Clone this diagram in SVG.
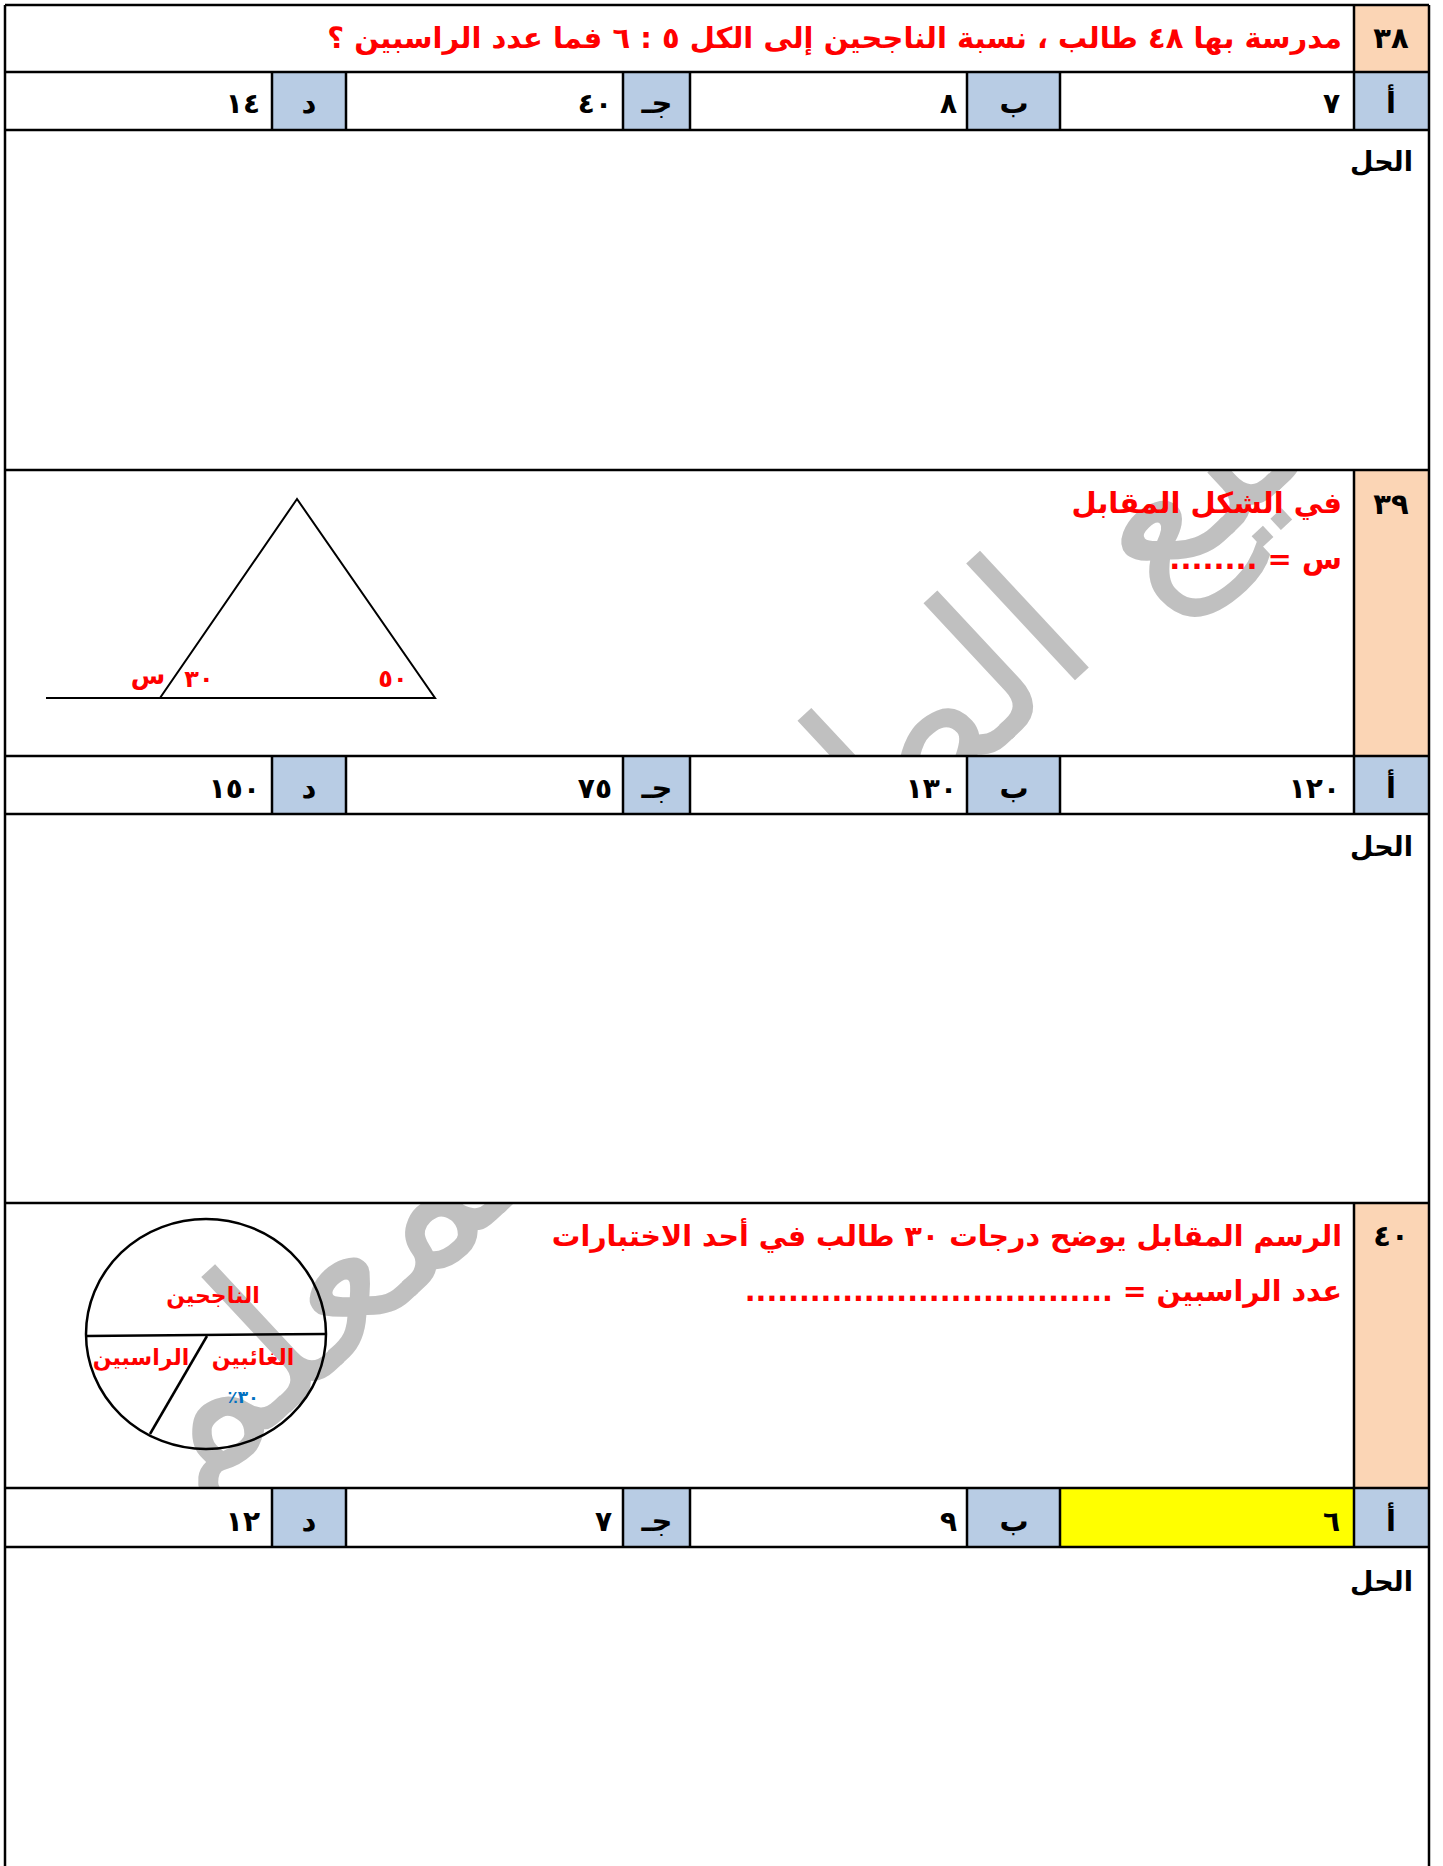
<svg xmlns="http://www.w3.org/2000/svg" width="1443" height="1866" viewBox="0 0 1443 1866">
<style>
.ln{stroke:#000;stroke-width:2.5;fill:none}
.thin{stroke:#000;stroke-width:2;fill:none}
.or{fill:#FBD5B5}
.bl{fill:#B8CCE4}
.ar{font-family:"DejaVu Sans",sans-serif;font-weight:bold}
.q{fill:#FF0000;font-size:29px}
.num{fill:#000;font-size:29px;text-anchor:middle}
.val{fill:#000;font-size:28px;text-anchor:end}
.sol{fill:#000;font-size:27px}
.lab{fill:#FF0000;font-size:22px;text-anchor:middle}
.wm{font-family:"DejaVu Sans",sans-serif;fill:#C0C0C0;font-size:210px}
</style>
<defs>
<clipPath id="wmclip">
<rect x="6" y="471" width="1347" height="284"/>
<rect x="6" y="1204" width="1347" height="283"/>
</clipPath>
</defs>
<rect x="0" y="0" width="1443" height="1866" fill="#fff"/>

<g id="cells">
<rect class="or" x="1354" y="5" width="75" height="67"/>
<rect class="bl" x="1354" y="72" width="75" height="58"/>
<rect class="bl" x="967" y="72" width="93" height="58"/>
<rect class="bl" x="623" y="72" width="67" height="58"/>
<rect class="bl" x="272" y="72" width="74" height="58"/>
<rect class="or" x="1354" y="470" width="75" height="286"/>
<rect class="bl" x="1354" y="756" width="75" height="58"/>
<rect class="bl" x="967" y="756" width="93" height="58"/>
<rect class="bl" x="623" y="756" width="67" height="58"/>
<rect class="bl" x="272" y="756" width="74" height="58"/>
<rect class="or" x="1354" y="1203" width="75" height="285"/>
<rect class="bl" x="1354" y="1488" width="75" height="59"/>
<rect x="1060" y="1488" width="294" height="59" fill="#FFFF00"/>
<rect class="bl" x="967" y="1488" width="93" height="59"/>
<rect class="bl" x="623" y="1488" width="67" height="59"/>
<rect class="bl" x="272" y="1488" width="74" height="59"/>
</g>

<g id="watermark" clip-path="url(#wmclip)">
<text class="wm" direction="rtl" text-anchor="middle" transform="translate(850,890) rotate(-43)">تجميع الطالب المعلم</text>
</g>

<g id="grid">
<line class="ln" x1="5" y1="5" x2="5" y2="1866"/>
<line class="ln" x1="1429" y1="5" x2="1429" y2="1866"/>
<line class="ln" x1="5" y1="5" x2="1429" y2="5"/>
<line class="ln" x1="5" y1="72" x2="1429" y2="72"/>
<line class="ln" x1="5" y1="130" x2="1429" y2="130"/>
<line class="ln" x1="5" y1="470" x2="1429" y2="470"/>
<line class="ln" x1="5" y1="756" x2="1429" y2="756"/>
<line class="ln" x1="5" y1="814" x2="1429" y2="814"/>
<line class="ln" x1="5" y1="1203" x2="1429" y2="1203"/>
<line class="ln" x1="5" y1="1488" x2="1429" y2="1488"/>
<line class="ln" x1="5" y1="1547" x2="1429" y2="1547"/>
<line class="ln" x1="1354" y1="5" x2="1354" y2="130"/>
<line class="ln" x1="1354" y1="470" x2="1354" y2="814"/>
<line class="ln" x1="1354" y1="1203" x2="1354" y2="1547"/>
<path class="ln" d="M1060 72V130M967 72V130M690 72V130M623 72V130M346 72V130M272 72V130"/>
<path class="ln" d="M1060 756V814M967 756V814M690 756V814M623 756V814M346 756V814M272 756V814"/>
<path class="ln" d="M1060 1488V1547M967 1488V1547M690 1488V1547M623 1488V1547M346 1488V1547M272 1488V1547"/>
</g>

<g id="q38">
<text class="ar num" x="1391" y="48">٣٨</text>
<text class="ar q" x="1342" y="48" direction="rtl" text-anchor="start">مدرسة بها ٤٨ طالب ، نسبة الناجحين إلى الكل ٥ : ٦  فما عدد الراسبين ؟</text>
<text class="ar num" x="1391" y="113">أ</text>
<text class="ar val" x="1340" y="113">٧</text>
<text class="ar num" x="1014" y="113">ب</text>
<text class="ar val" x="957" y="113">٨</text>
<text class="ar num" x="657" y="113">جـ</text>
<text class="ar val" x="612" y="113">٤٠</text>
<text class="ar num" x="309" y="113">د</text>
<text class="ar val" x="260" y="113">١٤</text>
<text class="ar sol" x="1413" y="171" direction="rtl" text-anchor="start">الحل</text>
</g>

<g id="q39">
<text class="ar num" x="1391" y="514">٣٩</text>
<text class="ar q" x="1342" y="513" direction="rtl" text-anchor="start">في الشكل المقابل</text>
<text class="ar q" x="1342" y="569" direction="rtl" text-anchor="start">س = ........</text>
<g id="triangle">
<polygon class="thin" points="297,499 160,698 435,698"/>
<line class="thin" x1="46" y1="698" x2="160" y2="698"/>
</g>
<text class="ar lab" x="148" y="684" style="font-size:25px">س</text>
<text class="ar lab" x="199" y="687" style="font-size:24px">٣٠</text>
<text class="ar lab" x="393" y="687" style="font-size:24px">٥٠</text>
<text class="ar num" x="1391" y="798">أ</text>
<text class="ar val" x="1340" y="798">١٢٠</text>
<text class="ar num" x="1014" y="798">ب</text>
<text class="ar val" x="957" y="798">١٣٠</text>
<text class="ar num" x="657" y="798">جـ</text>
<text class="ar val" x="612" y="798">٧٥</text>
<text class="ar num" x="309" y="798">د</text>
<text class="ar val" x="260" y="798">١٥٠</text>
<text class="ar sol" x="1413" y="856" direction="rtl" text-anchor="start">الحل</text>
</g>

<g id="q40">
<text class="ar num" x="1391" y="1246">٤٠</text>
<text class="ar q" x="1342" y="1246" direction="rtl" text-anchor="start" style="font-size:28.5px">الرسم المقابل يوضح درجات ٣٠ طالب في أحد الاختبارات</text>
<text class="ar q" x="1342" y="1301" direction="rtl" text-anchor="start" style="font-size:28.5px">عدد الراسبين = ..................................</text>
<g id="pie">
<ellipse class="ln" cx="206" cy="1334" rx="120" ry="115"/>
<line class="ln" x1="86" y1="1336" x2="326" y2="1334"/>
<line class="ln" x1="207" y1="1336" x2="150" y2="1434"/>
</g>
<text class="ar lab" x="213" y="1303">الناجحين</text>
<text class="ar lab" x="253" y="1365">الغائبين</text>
<text class="ar lab" x="141" y="1365">الراسبين</text>
<text class="ar lab" x="243" y="1403" direction="rtl" style="fill:#0070C0;font-size:17px">٣٠٪</text>
<text class="ar num" x="1391" y="1531">أ</text>
<text class="ar val" x="1340" y="1531">٦</text>
<text class="ar num" x="1014" y="1531">ب</text>
<text class="ar val" x="957" y="1531">٩</text>
<text class="ar num" x="657" y="1531">جـ</text>
<text class="ar val" x="612" y="1531">٧</text>
<text class="ar num" x="309" y="1531">د</text>
<text class="ar val" x="260" y="1531">١٢</text>
<text class="ar sol" x="1413" y="1591" direction="rtl" text-anchor="start">الحل</text>
</g>
</svg>
